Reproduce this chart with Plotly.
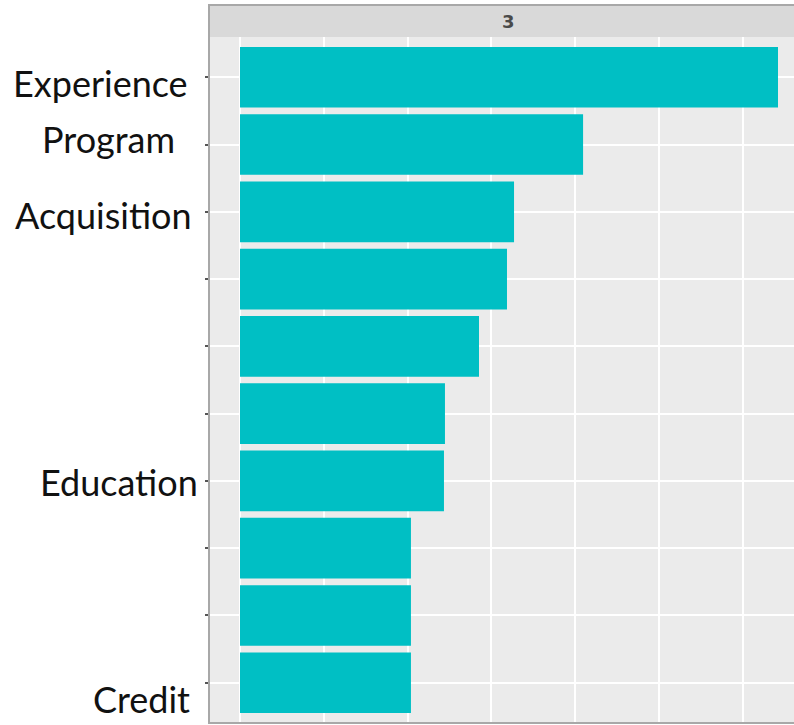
import plotly.graph_objects as go

# ---- data ----
ranks = [1, 2, 3, 4, 5, 6, 7, 8, 9, 10]
terms = ["Experience", "Program", "Acquisition", "", "", "", "Education", "", "", "Credit"]
scores = [3.21, 2.047, 1.635, 1.593, 1.426, 1.223, 1.217, 1.020, 1.020, 1.020]
facet_label = "3"

# ---- layout constants (pixels of the 794x725 picture) ----
W, H = 794, 725
PL, PR = 209, 794          # plot area left / right
PT, PB = 37, 723           # plot area top / bottom
STRIP_TOP = 5
FONT = "Lato"

# label placement tweaks: (right edge px, vertical shift px)
label_pos = {
    "Experience": (190, 6),
    "Program": (177, -6),
    "Acquisition": (194, 3),
    "Education": (200, 1),
    "Credit": (192, 16),
}

fig = go.Figure()
fig.add_trace(go.Bar(
    x=scores, y=ranks, orientation="h", width=0.9,
    marker=dict(color="#00BFC4", line=dict(width=0)),
    hoverinfo="x",
))

pw = PR - PL
ph = PB - PT
fig.update_layout(
    width=W, height=H,
    margin=dict(l=PL, r=W - PR, t=PT, b=H - PB, pad=0),
    paper_bgcolor="white",
    plot_bgcolor="#EBEBEB",
    showlegend=False,
    xaxis=dict(
        range=[(PL - 240) / 167.6, (PR - 240) / 167.6],
        tick0=0, dtick=1,
        showgrid=True, gridcolor="white", gridwidth=2,
        minor=dict(tick0=0.5, dtick=0.5, showgrid=True, gridcolor="white", gridwidth=1.5),
        showticklabels=False, zeroline=False, showline=False, ticks="",
    ),
    yaxis=dict(
        range=[10.6, 0.4],
        tickmode="array", tickvals=ranks, ticktext=["" for _ in ranks],
        showgrid=True, gridcolor="white", gridwidth=2,
        ticks="outside", ticklen=3, tickcolor="#555555", tickwidth=1.5,
        zeroline=False, showline=False,
    ),
)

# facet strip
strip_h = (PT - STRIP_TOP) / ph
fig.add_shape(type="rect", xref="paper", yref="paper",
              x0=0, x1=1.05, y0=1, y1=1 + strip_h,
              fillcolor="#D9D9D9", line=dict(width=0), layer="below")
fig.add_annotation(xref="paper", yref="paper", x=(508 - PL) / pw, y=1 + strip_h / 2,
                   text="<b>" + facet_label + "</b>", showarrow=False,
                   font=dict(family="DejaVu Sans", size=18, color="#4A4A4A"),
                   xanchor="center", yanchor="middle")

# outer border (left, top, bottom)
fig.add_shape(type="path", xref="paper", yref="paper",
              path=f"M 1.05 {1 + strip_h} L 0 {1 + strip_h} L 0 0 L 1.05 0",
              line=dict(color="#A8A8A8", width=2))

# category labels
for r, t in zip(ranks, terms):
    if not t:
        continue
    right_px, dy = label_pos[t]
    fig.add_annotation(xref="paper", yref="y", x=0, y=r,
                       xshift=right_px - PL, yshift=-dy,
                       text=t, showarrow=False,
                       font=dict(family=FONT, size=36, color="#111111"),
                       xanchor="right", yanchor="middle")

fig.write_html("out.html",
               config={"displayModeBar": False},
               post_script="document.body.style.margin='0';document.body.style.padding='0';")
